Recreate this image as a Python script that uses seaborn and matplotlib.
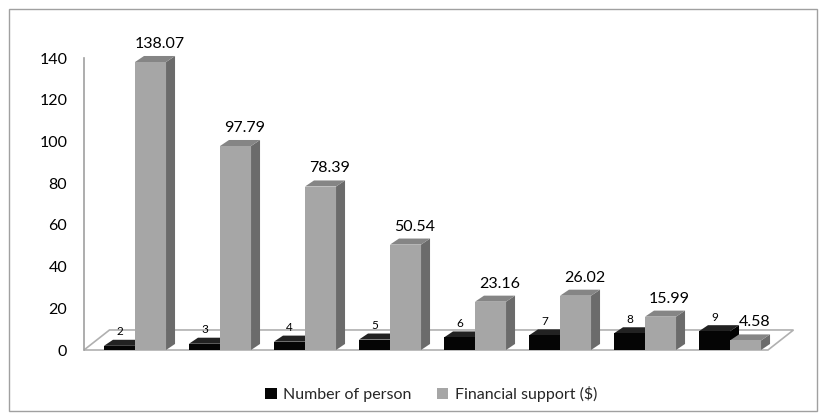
import matplotlib
matplotlib.use("Agg")
import matplotlib.pyplot as plt
import seaborn as sns
import pandas as pd
from matplotlib.patches import Polygon, Rectangle

categories = ["2", "3", "4", "5", "6", "7", "8", "9"]
number_of_person = [2, 3, 4, 5, 6, 7, 8, 9]
financial_support = [138.07, 97.79, 78.39, 50.54, 23.16, 26.02, 15.99, 4.58]
series_names = ["Number of person", "Financial support ($)"]
yticks = [0, 20, 40, 60, 80, 100, 120, 140]

df = pd.DataFrame({
    "cat": categories * 2,
    "series": [series_names[0]] * len(categories) + [series_names[1]] * len(categories),
    "value": number_of_person + financial_support,
})

sns.set_theme(style="white")
plt.rcParams["font.family"] = ["Lato", "DejaVu Sans"]

front_cols = {series_names[0]: "#050505", series_names[1]: "#a6a6a6"}
side_cols = {series_names[0]: "#000000", series_names[1]: "#6b6b6b"}
top_cols = {series_names[0]: "#222222", series_names[1]: "#858585"}

fig = plt.figure(figsize=(8.26, 4.19), dpi=100)
ax = fig.add_axes([84 / 826, 1 - 350 / 419, (768 - 84) / 826, (350 - 58) / 419])

sns.barplot(data=df, x="cat", y="value", hue="series", palette=front_cols,
            width=0.73, ax=ax, legend=False, saturation=1, zorder=3,
            edgecolor="none", linewidth=0)

ax.set_ylim(0, 140)
ax.set_xlim(-0.6, 7.447)
ax.set_yticks(yticks)
ax.set_yticklabels([str(t) for t in yticks], fontsize=11.5, color="#000000")
ax.tick_params(axis="y", length=0, pad=12)
ax.set_xticks([])
ax.set_xlabel("")
ax.set_ylabel("")
for s in ["top", "right", "bottom"]:
    ax.spines[s].set_visible(False)
ax.spines["left"].set_color("#a0a0a0")
ax.spines["left"].set_linewidth(1.2)

# 3D depth offsets (data units)
dx, dy = 0.106, 2.9
fdx, fdy = 0.30, 9.6

# floor
x0, x1 = ax.get_xlim()
floor = Polygon([(x0, 0), (x1, 0), (x1 + fdx, fdy), (x0 + fdx, fdy)], closed=True,
                facecolor="white", edgecolor="#b0b0b0", linewidth=1.2,
                zorder=1, clip_on=False)
ax.add_patch(floor)

for cont, name in zip(ax.containers, series_names):
    for rect in cont:
        bx = rect.get_x()
        bw = rect.get_width()
        h = rect.get_height()
        side = Polygon([(bx + bw, 0), (bx + bw + dx, dy), (bx + bw + dx, h + dy), (bx + bw, h)],
                       closed=True, facecolor=side_cols[name], edgecolor="none",
                       zorder=2.9, clip_on=False)
        top = Polygon([(bx, h), (bx + bw, h), (bx + bw + dx, h + dy), (bx + dx, h + dy)],
                      closed=True, facecolor=top_cols[name], edgecolor="none",
                      zorder=2.9, clip_on=False)
        ax.add_patch(side)
        ax.add_patch(top)
        if name == series_names[0]:
            ax.text(bx + bw / 2, h + dy + 1.2, f"{h:g}", ha="center", va="bottom",
                    fontsize=8.5, color="#000000", zorder=5, clip_on=False)
        else:
            ax.text(bx + bw / 2 + dx, h + dy + 2.4, f"{h:.2f}", ha="center", va="bottom",
                    fontsize=11.5, color="#000000", zorder=5, clip_on=False)

# legend
handles = [Rectangle((0, 0), 1, 1, facecolor=front_cols[n], edgecolor="none") for n in series_names]
fig.legend(handles, series_names, loc="center", bbox_to_anchor=(0.522, 1 - 394 / 419),
           ncol=2, frameon=False, fontsize=11.5, handlelength=0.7, handleheight=0.7,
           handletextpad=0.4, columnspacing=1.6)

# outer border
fig.patches.append(Rectangle((9 / 826, 8 / 419), 808 / 826, 402 / 419,
                             transform=fig.transFigure, fill=False,
                             edgecolor="#a0a0a0", linewidth=1.0))

fig.savefig("out.png", dpi=100)
